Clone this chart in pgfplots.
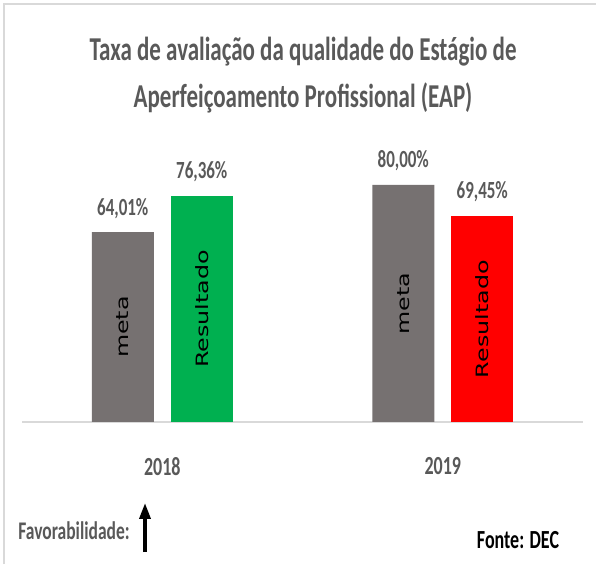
\documentclass[border=0pt]{standalone}
\usepackage{fontspec}
\setmainfont{Carlito}
\newfontfamily\dejavu{DejaVu Sans}
\usepackage{graphicx}
\usepackage{pgfplots}
\pgfplotsset{compat=1.18}
\usetikzlibrary{arrows.meta}
\definecolor{metagray}{HTML}{767171}
\definecolor{resgreen}{HTML}{00B050}
\definecolor{resred}{HTML}{FF0000}
\definecolor{txtgray}{HTML}{595959}
\definecolor{framegray}{HTML}{D9D9D9}
\newcommand{\vs}[1]{\scalebox{1}[1.45]{#1}}
\begin{document}
\begin{tikzpicture}[x=1pt,y=1pt]
\path[use as bounding box] (0,0) rectangle (596,564);
\draw[framegray, line width=2pt] (4,0) -- (4,560) -- (596,560);
\node[font=\fontsize{23}{26}\selectfont\bfseries, text=txtgray] at (303,512) {\vs{Taxa de avaliação da qualidade do Estágio de}};
\node[font=\fontsize{23}{26}\selectfont\bfseries, text=txtgray] at (303,466) {\vs{Aperfeiçoamento Profissional (EAP)}};
\begin{axis}[
  at={(22pt,142pt)}, anchor=south west,
  scale only axis, width=561pt, height=266.85pt,
  xmin=-0.5, xmax=1.5, ymin=0, ymax=90,
  axis x line*=bottom, axis y line=none,
  x axis line style={draw=framegray, line width=1.5pt},
  xtick={0,1}, xticklabels={\vs{2018},\vs{2019}},
  xtick style={draw=none},
  xticklabel style={anchor=center, yshift=-40pt, font=\fontsize{18}{20}\selectfont\bfseries, text=txtgray},
  ytick=\empty,
  ybar, bar width=62pt,
  clip=false,
  nodes near coords={\vs{\pgfmathprintnumber[fixed,fixed zerofill,precision=2,use comma,assume math mode=true]{\pgfplotspointmeta}\%}},
  every node near coord/.append style={anchor=center, yshift=24pt, font=\fontsize{17}{20}\selectfont\bfseries, text=txtgray},
]
\addplot[fill=metagray, draw=none, bar shift=-39.5pt] coordinates {(0,64.01) (1,80.00)};
\addplot[fill=resgreen, draw=none, bar shift=39.5pt] coordinates {(0,76.36)};
\addplot[fill=resred, draw=none, bar shift=39.5pt] coordinates {(1,69.45)};
\node[xshift=-39.5pt, rotate=90, font=\dejavu\fontsize{17}{20}\selectfont] at (axis cs:0,32.0) {\scalebox{1.4}[1]{meta}};
\node[xshift=39.5pt, rotate=90, font=\dejavu\fontsize{17}{20}\selectfont] at (axis cs:0,38.2) {\scalebox{1.4}[1]{Resultado}};
\node[xshift=-39.5pt, rotate=90, font=\dejavu\fontsize{17}{20}\selectfont] at (axis cs:1,40.0) {\scalebox{1.4}[1]{meta}};
\node[xshift=39.5pt, rotate=90, font=\dejavu\fontsize{17}{20}\selectfont] at (axis cs:1,34.7) {\scalebox{1.4}[1]{Resultado}};
\end{axis}
\node[font=\fontsize{17.5}{20}\selectfont\bfseries, text=txtgray] at (74,33) {\vs{Favorabilidade:}};
\draw[line width=3.5pt, -{Triangle[length=16pt,width=11pt]}] (145,12) -- (145,61);
\node[font=\fontsize{18}{20}\selectfont\bfseries, text=black] at (518,24) {\vs{Fonte: DEC}};
\end{tikzpicture}
\end{document}
